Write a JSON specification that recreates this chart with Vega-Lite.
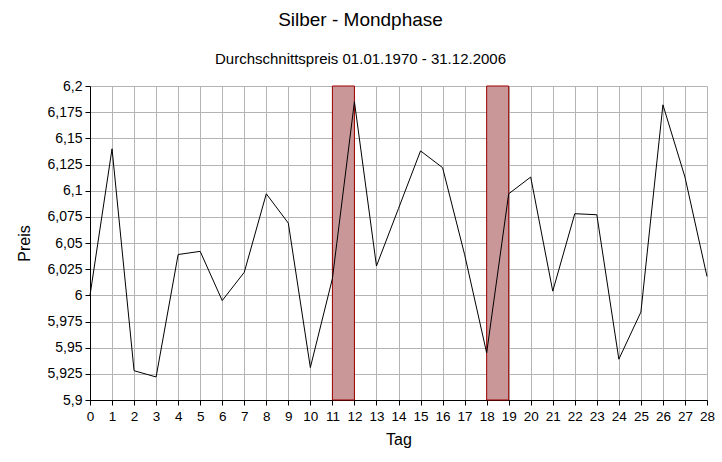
{
  "$schema": "https://vega.github.io/schema/vega-lite/v6.json",
  "autosize": "none",
  "width": 617,
  "height": 314,
  "padding": {"left": 90, "top": 86, "right": 15, "bottom": 62},
  "background": "white",
  "title": {
    "text": "Silber - Mondphase",
    "subtitle": "Durchschnittspreis 01.01.1970 - 31.12.2006",
    "font": "Liberation Sans",
    "fontSize": 19,
    "fontWeight": "normal",
    "color": "black",
    "subtitleFont": "Liberation Sans",
    "subtitleFontSize": 15,
    "subtitleColor": "black",
    "subtitlePadding": 22,
    "anchor": "middle",
    "dx": -38,
    "offset": 12
  },
  "datasets": {
    "preise": [
      {"tag": 0, "preis": 6.0},
      {"tag": 1, "preis": 6.14},
      {"tag": 2, "preis": 5.928},
      {"tag": 3, "preis": 5.922},
      {"tag": 4, "preis": 6.039},
      {"tag": 5, "preis": 6.042},
      {"tag": 6, "preis": 5.995},
      {"tag": 7, "preis": 6.022},
      {"tag": 8, "preis": 6.097},
      {"tag": 9, "preis": 6.069},
      {"tag": 10, "preis": 5.931},
      {"tag": 11, "preis": 6.016},
      {"tag": 12, "preis": 6.185},
      {"tag": 13, "preis": 6.028},
      {"tag": 14, "preis": 6.083},
      {"tag": 15, "preis": 6.138},
      {"tag": 16, "preis": 6.122},
      {"tag": 17, "preis": 6.039},
      {"tag": 18, "preis": 5.945},
      {"tag": 19, "preis": 6.097},
      {"tag": 20, "preis": 6.113},
      {"tag": 21, "preis": 6.004},
      {"tag": 22, "preis": 6.078},
      {"tag": 23, "preis": 6.077},
      {"tag": 24, "preis": 5.939},
      {"tag": 25, "preis": 5.984},
      {"tag": 26, "preis": 6.182},
      {"tag": 27, "preis": 6.113},
      {"tag": 28, "preis": 6.018}
    ],
    "phasen": [
      {"von": 11, "bis": 12},
      {"von": 18, "bis": 19}
    ]
  },
  "layer": [
    {
      "data": {"name": "phasen"},
      "mark": {"type": "rect", "fill": "#c99797", "stroke": "#990000", "strokeWidth": 1},
      "encoding": {
        "x": {
          "field": "von",
          "type": "quantitative",
          "scale": {"domain": [0, 28], "nice": false, "zero": false},
          "axis": {
            "title": "Tag",
            "values": [0,1,2,3,4,5,6,7,8,9,10,11,12,13,14,15,16,17,18,19,20,21,22,23,24,25,26,27,28],
            "labelOverlap": false,
            "labelSeparation": 0,
            "labelFontSize": 13.5,
            "labelPadding": 4,
            "titlePadding": 9
          }
        },
        "x2": {"field": "bis"}
      }
    },
    {
      "data": {"name": "preise"},
      "mark": {"type": "line", "color": "black", "strokeWidth": 1},
      "encoding": {
        "x": {
          "field": "tag",
          "type": "quantitative",
          "scale": {"domain": [0, 28], "nice": false, "zero": false},
          "axis": {
            "title": "Tag",
            "values": [0,1,2,3,4,5,6,7,8,9,10,11,12,13,14,15,16,17,18,19,20,21,22,23,24,25,26,27,28],
            "labelOverlap": false,
            "labelSeparation": 0,
            "labelFontSize": 13.5,
            "labelPadding": 4,
            "titlePadding": 9
          }
        },
        "y": {
          "field": "preis",
          "type": "quantitative",
          "scale": {"domain": [5.9, 6.2], "nice": false, "zero": false},
          "axis": {
            "title": "Preis",
            "values": [5.9, 5.925, 5.95, 5.975, 6.0, 6.025, 6.05, 6.075, 6.1, 6.125, 6.15, 6.175, 6.2],
            "labelExpr": "replace(format(datum.value, '.3~f'), '.', ',')",
            "labelOverlap": false,
            "labelPadding": 3,
            "titlePadding": 14
          }
        }
      }
    }
  ],
  "config": {
    "view": {"stroke": null},
    "axis": {
      "labelFont": "Liberation Sans",
      "labelFontSize": 14,
      "labelColor": "black",
      "titleFont": "Liberation Sans",
      "titleFontSize": 16,
      "titleFontWeight": "normal",
      "titleColor": "black",
      "domainColor": "black",
      "tickColor": "black",
      "tickSize": 5,
      "grid": true,
      "gridColor": "#b4b4b4",
      "gridOpacity": 1,
      "labelFlush": false,
      "labelOverlap": false
    }
  }
}
